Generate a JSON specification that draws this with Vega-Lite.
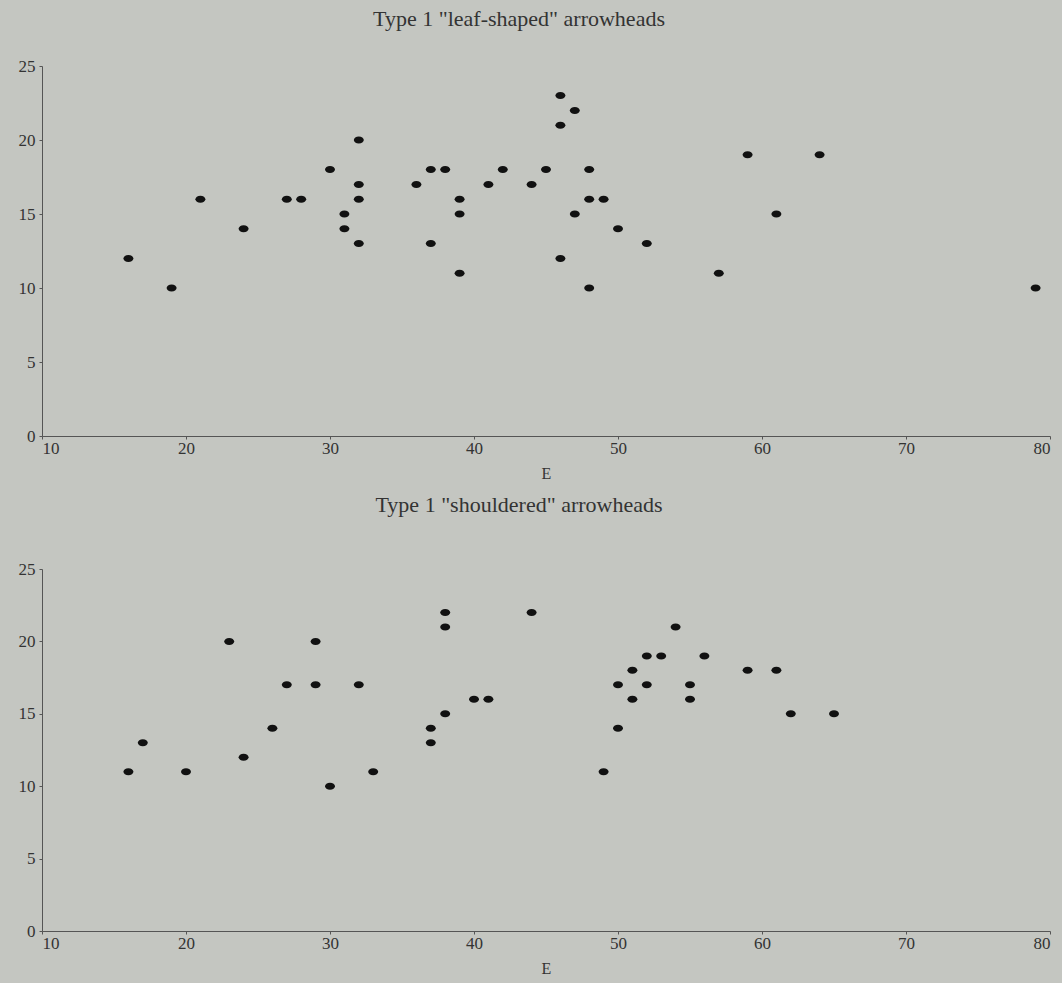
{
  "$schema": "https://vega.github.io/schema/vega-lite/v6.json",
  "background": "#c4c6c1",
  "padding": {"left": 18, "top": 8, "right": 12, "bottom": 9},
  "spacing": 13,
  "config": {
    "font": "Liberation Serif",
    "view": {"stroke": null},
    "axis": {
      "grid": false,
      "domainColor": "#555",
      "tickColor": "#555",
      "tickSize": 3,
      "labelFont": "Liberation Serif",
      "labelFontSize": 17,
      "labelColor": "#333",
      "labelLetterSpacing": 1.5,
      "titleFont": "Liberation Serif",
      "titleFontSize": 16,
      "titleFontWeight": "normal",
      "titleColor": "#333"
    },
    "title": {"font": "Liberation Serif", "fontSize": 22, "fontWeight": "normal", "color": "#333", "dx": -27}
  },
  "datasets": {
    "leaf": [
      {"E": 16, "V": 12}, {"E": 19, "V": 10}, {"E": 21, "V": 16}, {"E": 24, "V": 14},
      {"E": 27, "V": 16}, {"E": 28, "V": 16}, {"E": 30, "V": 18}, {"E": 31, "V": 15},
      {"E": 31, "V": 14}, {"E": 32, "V": 20}, {"E": 32, "V": 17}, {"E": 32, "V": 16},
      {"E": 32, "V": 13}, {"E": 36, "V": 17}, {"E": 37, "V": 18}, {"E": 38, "V": 18},
      {"E": 37, "V": 13}, {"E": 39, "V": 16}, {"E": 39, "V": 15}, {"E": 39, "V": 11},
      {"E": 41, "V": 17}, {"E": 42, "V": 18}, {"E": 44, "V": 17}, {"E": 45, "V": 18},
      {"E": 46, "V": 23}, {"E": 46, "V": 21}, {"E": 47, "V": 22}, {"E": 47, "V": 15},
      {"E": 46, "V": 12}, {"E": 48, "V": 18}, {"E": 48, "V": 16}, {"E": 48, "V": 10},
      {"E": 49, "V": 16}, {"E": 50, "V": 14}, {"E": 52, "V": 13}, {"E": 57, "V": 11},
      {"E": 59, "V": 19}, {"E": 61, "V": 15}, {"E": 64, "V": 19}, {"E": 79, "V": 10}
    ],
    "shoulder": [
      {"E": 16, "V": 11}, {"E": 17, "V": 13}, {"E": 20, "V": 11}, {"E": 23, "V": 20},
      {"E": 24, "V": 12}, {"E": 26, "V": 14}, {"E": 27, "V": 17}, {"E": 29, "V": 20},
      {"E": 29, "V": 17}, {"E": 30, "V": 10}, {"E": 32, "V": 17}, {"E": 33, "V": 11},
      {"E": 37, "V": 14}, {"E": 37, "V": 13}, {"E": 38, "V": 22}, {"E": 38, "V": 21},
      {"E": 38, "V": 15}, {"E": 40, "V": 16}, {"E": 41, "V": 16}, {"E": 44, "V": 22},
      {"E": 49, "V": 11}, {"E": 50, "V": 17}, {"E": 50, "V": 14}, {"E": 51, "V": 18},
      {"E": 51, "V": 16}, {"E": 52, "V": 19}, {"E": 52, "V": 17}, {"E": 53, "V": 19},
      {"E": 54, "V": 21}, {"E": 55, "V": 17}, {"E": 55, "V": 16}, {"E": 56, "V": 19},
      {"E": 59, "V": 18}, {"E": 61, "V": 18}, {"E": 62, "V": 15}, {"E": 65, "V": 15}
    ]
  },
  "vconcat": [
    {
      "title": {"text": "Type 1 \"leaf-shaped\" arrowheads", "offset": 26},
      "width": 1008,
      "height": 370,
      "data": {"name": "leaf"},
      "mark": {"type": "point", "filled": true, "opacity": 1, "color": "#111", "size": 100, "shape": "M -1 0 A 1 0.7 0 1 0 1 0 A 1 0.7 0 1 0 -1 0 Z"},
      "encoding": {
        "x": {"field": "E", "type": "quantitative", "scale": {"domain": [10, 80], "nice": false, "zero": false},
              "axis": {"values": [10, 20, 30, 40, 50, 60, 70, 80], "labelPadding": 1, "titlePadding": 9, "title": "E"}},
        "y": {"field": "V", "type": "quantitative", "scale": {"domain": [0, 25], "nice": false},
              "axis": {"values": [0, 5, 10, 15, 20, 25], "labelPadding": 4, "title": null}}
      }
    },
    {
      "title": {"text": "Type 1 \"shouldered\" arrowheads", "offset": 43},
      "width": 1008,
      "height": 362,
      "data": {"name": "shoulder"},
      "mark": {"type": "point", "filled": true, "opacity": 1, "color": "#111", "size": 100, "shape": "M -1 0 A 1 0.7 0 1 0 1 0 A 1 0.7 0 1 0 -1 0 Z"},
      "encoding": {
        "x": {"field": "E", "type": "quantitative", "scale": {"domain": [10, 80], "nice": false, "zero": false},
              "axis": {"values": [10, 20, 30, 40, 50, 60, 70, 80], "labelPadding": 1, "titlePadding": 9, "title": "E"}},
        "y": {"field": "V", "type": "quantitative", "scale": {"domain": [0, 25], "nice": false},
              "axis": {"values": [0, 5, 10, 15, 20, 25], "labelPadding": 4, "title": null}}
      }
    }
  ]
}
